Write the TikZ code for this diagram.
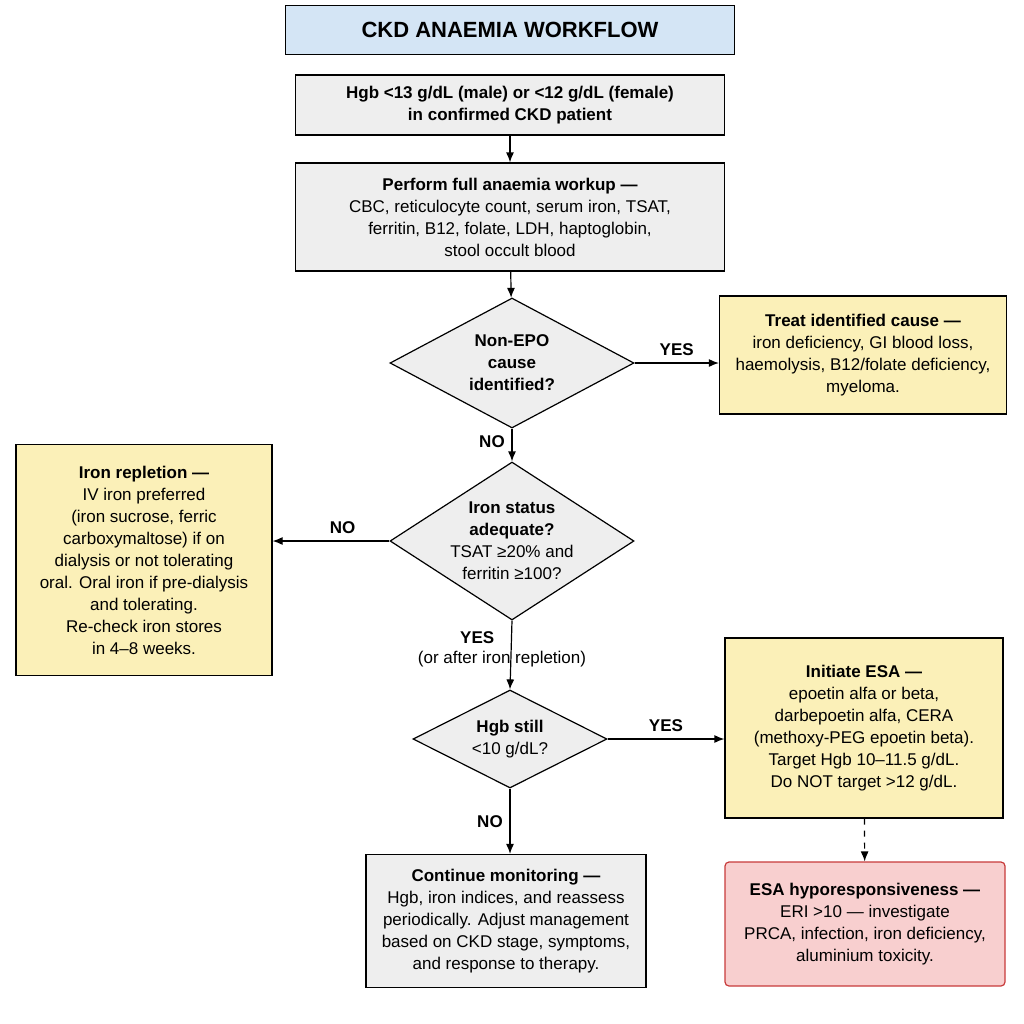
\documentclass[tikz,border=0pt]{standalone}
\usepackage{fontspec}
\setmainfont{Liberation Sans}
\usetikzlibrary{shapes.geometric,arrows.meta}
\definecolor{boxgray}{HTML}{EEEEEE}
\definecolor{boxyellow}{HTML}{FBF0B8}
\definecolor{boxblue}{HTML}{D4E5F5}
\definecolor{boxred}{HTML}{F8CFCF}
\definecolor{edgered}{HTML}{C83A3A}
\tikzset{
  base/.style={draw, line width=0.6pt, align=center, font=\fontsize{8.5}{11}\selectfont, inner sep=2pt},
  procbox/.style={base, fill=boxgray},
  notebox/.style={base, fill=boxyellow},
  alertbox/.style={base, fill=boxred, draw=edgered, rounded corners=2pt},
  decision/.style={draw, line width=0.6pt, diamond, fill=boxgray, inner sep=0pt},
  dtext/.style={align=center, font=\fontsize{8.5}{11}\selectfont, inner sep=0pt},
  flow/.style={-{Latex[length=5pt,width=4pt]}, line width=0.6pt},
  lbl/.style={font=\fontsize{8.5}{10}\selectfont}
}
\begin{document}
\begin{tikzpicture}[x=0.5pt, y=-0.5pt]
\useasboundingbox (0,0) rectangle (1024,1024);
% top
\node[base, fill=boxblue, minimum width=224.5pt, minimum height=24.5pt, font=\fontsize{11}{13}\selectfont\bfseries] (title) at (510,30) {CKD ANAEMIA WORKFLOW};
\node[procbox, minimum width=214.5pt, minimum height=30pt] (start) at (510,105) {\textbf{Hgb <13 g/dL (male) or <12 g/dL (female)}\\\textbf{in confirmed CKD patient}};
\node[procbox, minimum width=214.5pt, minimum height=54pt] (workup) at (510,217) {\textbf{Perform full anaemia workup —}\\CBC, reticulocyte count, serum iron, TSAT,\\ferritin, B12, folate, LDH, haptoglobin,\\stool occult blood};
% decisions
\node[decision, minimum width=122pt, minimum height=65pt] (cause) at (512,363) {};
\node[dtext] (causetxt) at (cause) {\textbf{Non-EPO}\\\textbf{cause}\\\textbf{identified?}};
\node[notebox, minimum width=143.5pt, minimum height=59pt] (treat) at (863,355) {\textbf{Treat identified cause —}\\iron deficiency, GI blood loss,\\haemolysis, B12/folate deficiency,\\myeloma.};
\node[decision, minimum width=122pt, minimum height=79pt] (iron) at (512,541) {};
\node[dtext] (irontxt) at (iron) {\textbf{Iron status}\\\textbf{adequate?}\\TSAT ≥20\% and\\ferritin ≥100?};
\node[notebox, minimum width=128pt, minimum height=115.5pt] (replete) at (144,560) {\textbf{Iron repletion —}\\IV iron preferred\\(iron sucrose, ferric\\carboxymaltose) if on\\dialysis or not tolerating\\oral. Oral iron if pre-dialysis\\and tolerating.\\Re-check iron stores\\in 4–8 weeks.};
\node[decision, minimum width=97pt, minimum height=49pt] (hgb) at (510,739) {};
\node[dtext] (hgbtxt) at (hgb) {\textbf{Hgb still}\\<10 g/dL?};
\node[notebox, minimum width=139pt, minimum height=90pt] (esa) at (864,728) {\textbf{Initiate ESA —}\\epoetin alfa or beta,\\darbepoetin alfa, CERA\\(methoxy-PEG epoetin beta).\\Target Hgb 10–11.5 g/dL.\\Do NOT target >12 g/dL.};
\node[procbox, minimum width=140pt, minimum height=66.5pt] (monitor) at (506,921) {\textbf{Continue monitoring —}\\Hgb, iron indices, and reassess\\periodically. Adjust management\\based on CKD stage, symptoms,\\and response to therapy.};
\node[alertbox, minimum width=140pt, minimum height=62pt] (hypo) at (865,924) {\textbf{ESA hyporesponsiveness —}\\ERI >10 — investigate\\PRCA, infection, iron deficiency,\\aluminium toxicity.};
% connectors
\draw[flow] (start) -- (workup);
\draw[flow] (workup) -- (cause);
\draw[flow] (cause.east) -- node[lbl, above] {\textbf{YES}} (treat.west |- cause.east);
\draw[flow] (cause.south) -- node[lbl, pos=0.4, left] {\textbf{NO}} (iron.north);
\draw[flow] (iron.west) -- node[lbl, above, pos=0.4] {\textbf{NO}} (replete.east |- iron.west);
\draw[flow] (iron.south) -- node[lbl, pos=0.25, left, xshift=-5pt] {\textbf{YES}} (hgb.north);
\node[lbl] (after) at (502,659) {(or after iron repletion)};
\draw[flow] (hgb.east) -- node[lbl, above] {\textbf{YES}} (esa.west |- hgb.east);
\draw[flow] (hgb.south) -- node[lbl, left] {\textbf{NO}} (monitor.north -| hgb.south);
\draw[flow, dashed] (esa) -- (hypo);
\end{tikzpicture}
\end{document}
